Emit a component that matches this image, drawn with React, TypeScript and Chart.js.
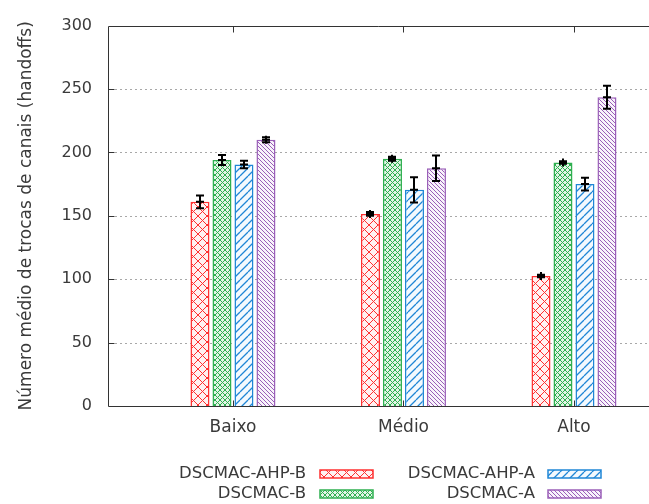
import React, { useEffect, useRef } from 'react';
import { Chart, registerables } from 'chart.js';

Chart.register(...registerables);

const categories = ['Baixo', 'Médio', 'Alto'];
const seriesNames = ['DSCMAC-AHP-B', 'DSCMAC-B', 'DSCMAC-AHP-A', 'DSCMAC-A'];
const ahpBValues = [161, 151.5, 102.5];
const ahpBErrors = [5, 1.5, 1];
const dscBValues = [194, 195, 192];
const dscBErrors = [4, 1.5, 1];
const ahpAValues = [190.5, 170.5, 175];
const ahpAErrors = [3, 10, 5];
const dscAValues = [210, 187.5, 243.5];
const dscAErrors = [2, 10, 9];
const yTickValues = [0, 50, 100, 150, 200, 250, 300];
const yTitle = 'Número médio de trocas de canais (handoffs)';

const colors = ['#ff3030', '#2fb050', '#1f86d6', '#9a5fb8'];
const tints = ['#fff1f1', '#e2f4e6', '#f3f9fe', '#f8f3fb'];
const patternKinds = ['cross', 'fine', 'slash', 'back'];
const FONT = '"DejaVu Sans", sans-serif';
const TEXT = '#3a3a3a';

function makePattern(kind: string, color: string, tint: string): CanvasPattern {
  const c = document.createElement('canvas');
  const s = kind === 'cross' ? 9 : kind === 'fine' ? 5 : kind === 'slash' ? 8 : 4;
  c.width = s;
  c.height = s;
  const ctx = c.getContext('2d')!;
  ctx.fillStyle = tint;
  ctx.fillRect(0, 0, s, s);
  ctx.strokeStyle = color;
  ctx.lineWidth = kind === 'slash' ? 1.3 : 1;
  const fwd = kind === 'cross' || kind === 'fine' || kind === 'slash';
  const bwd = kind === 'cross' || kind === 'fine' || kind === 'back';
  ctx.beginPath();
  for (const k of [-s, 0, s]) {
    if (fwd) {
      ctx.moveTo(k, s);
      ctx.lineTo(k + s, 0);
    }
    if (bwd) {
      ctx.moveTo(k, 0);
      ctx.lineTo(k + s, s);
    }
  }
  ctx.stroke();
  return ctx.createPattern(c, 'repeat')!;
}

export default function App() {
  const ref = useRef<HTMLCanvasElement>(null);

  useEffect(() => {
    const canvas = ref.current!;
    const values = [ahpBValues, dscBValues, ahpAValues, dscAValues];
    const errors = [ahpBErrors, dscBErrors, ahpAErrors, dscAErrors];
    const patterns = colors.map((c, i) => makePattern(patternKinds[i], c, tints[i]));

    const framePlugin = {
      id: 'gnuplotFrame',
      beforeDatasetsDraw(chart: any) {
        const { ctx, chartArea: a, scales } = chart;
        ctx.save();
        ctx.strokeStyle = '#a8a8a8';
        ctx.lineWidth = 1;
        ctx.setLineDash([2, 3]);
        yTickValues.forEach((v) => {
          if (v === 0 || v === 300) return;
          const y = Math.round(scales.y.getPixelForValue(v)) + 0.5;
          ctx.beginPath();
          ctx.moveTo(a.left + 7, y);
          ctx.lineTo(a.right, y);
          ctx.stroke();
        });
        ctx.restore();
      },
      afterDatasetsDraw(chart: any) {
        const { ctx, chartArea: a, scales } = chart;
        ctx.save();
        // error bars with "+" marker at the mean
        ctx.strokeStyle = '#000000';
        ctx.lineWidth = 2;
        values.forEach((vals, i) => {
          const meta = chart.getDatasetMeta(i);
          meta.data.forEach((el: any, j: number) => {
            const x = Math.round(el.x);
            const v = vals[j];
            const e = errors[i][j];
            const yv = scales.y.getPixelForValue(v);
            const yl = scales.y.getPixelForValue(v - e);
            const yh = scales.y.getPixelForValue(v + e);
            ctx.beginPath();
            ctx.moveTo(x, yl);
            ctx.lineTo(x, yh);
            ctx.moveTo(x - 4, yl);
            ctx.lineTo(x + 4, yl);
            ctx.moveTo(x - 4, yh);
            ctx.lineTo(x + 4, yh);
            ctx.moveTo(x - 4, yv);
            ctx.lineTo(x + 4, yv);
            ctx.moveTo(x, yv - 4);
            ctx.lineTo(x, yv + 4);
            ctx.stroke();
          });
        });
        // frame
        ctx.strokeStyle = '#333333';
        ctx.lineWidth = 1;
        const L = Math.round(a.left) + 0.5;
        const T = Math.round(a.top) + 0.5;
        const B = Math.round(a.bottom) + 0.5;
        ctx.beginPath();
        ctx.moveTo(L, T);
        ctx.lineTo(a.right, T);
        ctx.moveTo(L, T);
        ctx.lineTo(L, B);
        ctx.moveTo(L, B);
        ctx.lineTo(a.right, B);
        yTickValues.forEach((v) => {
          if (v === 0 || v === 300) return;
          const y = Math.round(scales.y.getPixelForValue(v)) + 0.5;
          ctx.moveTo(L, y);
          ctx.lineTo(L + 6, y);
        });
        categories.forEach((_, i) => {
          const x = Math.round(scales.x.getPixelForValue(i)) + 0.5;
          ctx.moveTo(x, B);
          ctx.lineTo(x, B - 6);
          ctx.moveTo(x, T);
          ctx.lineTo(x, T + 6);
        });
        ctx.stroke();

        // legend
        const rows = [474, 494];
        const textRight = [306, 535];
        const boxLeft = [320, 548];
        const boxWidth = 53;
        ctx.font = `16.5px ${FONT}`;
        ctx.textAlign = 'right';
        ctx.textBaseline = 'middle';
        const order = [0, 2, 1, 3];
        const slots = [
          [0, 0],
          [1, 0],
          [0, 1],
          [1, 1],
        ];
        order.forEach((si, k) => {
          const [col, row] = slots[k];
          const y = rows[row];
          ctx.fillStyle = TEXT;
          ctx.fillText(seriesNames[si], textRight[col], y);
          ctx.fillStyle = patterns[si];
          ctx.fillRect(boxLeft[col], y - 4, boxWidth, 8);
          ctx.strokeStyle = colors[si];
          ctx.lineWidth = 1.5;
          ctx.strokeRect(boxLeft[col], y - 4, boxWidth, 8);
        });
        ctx.restore();
      },
    };

    const chart = new Chart(canvas, {
      type: 'bar',
      data: {
        datasets: seriesNames.map((name, i) => ({
          label: name,
          data: values[i].map((v, j) => ({ x: j, y: v })),
          backgroundColor: patterns[i],
          borderColor: colors[i],
          borderWidth: 1.5,
          categoryPercentage: 0.516,
          barPercentage: 0.864,
        })),
      },
      options: {
        animation: false,
        responsive: false,
        devicePixelRatio: 1,
        layout: { padding: { top: 19, right: 0, left: 0, bottom: 0 } },
        plugins: {
          legend: { display: false },
          tooltip: { enabled: false },
        },
        scales: {
          x: {
            type: 'linear',
            offset: false,
            min: -0.733,
            max: 2.44,
            afterBuildTicks: (scale: any) => {
              scale.ticks = categories.map((_, i) => ({ value: i }));
            },
            afterFit: (scale: any) => {
              scale.height = 98;
            },
            ticks: {
              callback: (v: any) => categories[v as number] ?? '',
              font: { family: FONT, size: 17 },
              color: TEXT,
              padding: 11,
              autoSkip: false,
              maxRotation: 0,
            },
            grid: { display: false, drawTicks: false, offset: false },
            border: { display: false },
          },
          y: {
            min: 0,
            max: 300,
            afterBuildTicks: (scale: any) => {
              scale.ticks = yTickValues.map((v) => ({ value: v }));
            },
            afterFit: (scale: any) => {
              scale.width = 108;
            },
            ticks: {
              font: { family: FONT, size: 16 },
              color: TEXT,
              padding: 16,
            },
            grid: { display: false, drawTicks: false },
            border: { display: false },
            title: {
              display: true,
              text: yTitle,
              font: { family: FONT, size: 17 },
              color: TEXT,
              padding: { top: 16, bottom: 0 },
            },
          },
        },
      } as any,
      plugins: [framePlugin],
    });

    return () => chart.destroy();
  }, []);

  return (
    <div style={{ position: 'fixed', left: 0, top: 0, width: 649, height: 504, background: '#fff' }}>
      <canvas ref={ref} width={649} height={504} style={{ display: 'block' }} />
    </div>
  );
}
